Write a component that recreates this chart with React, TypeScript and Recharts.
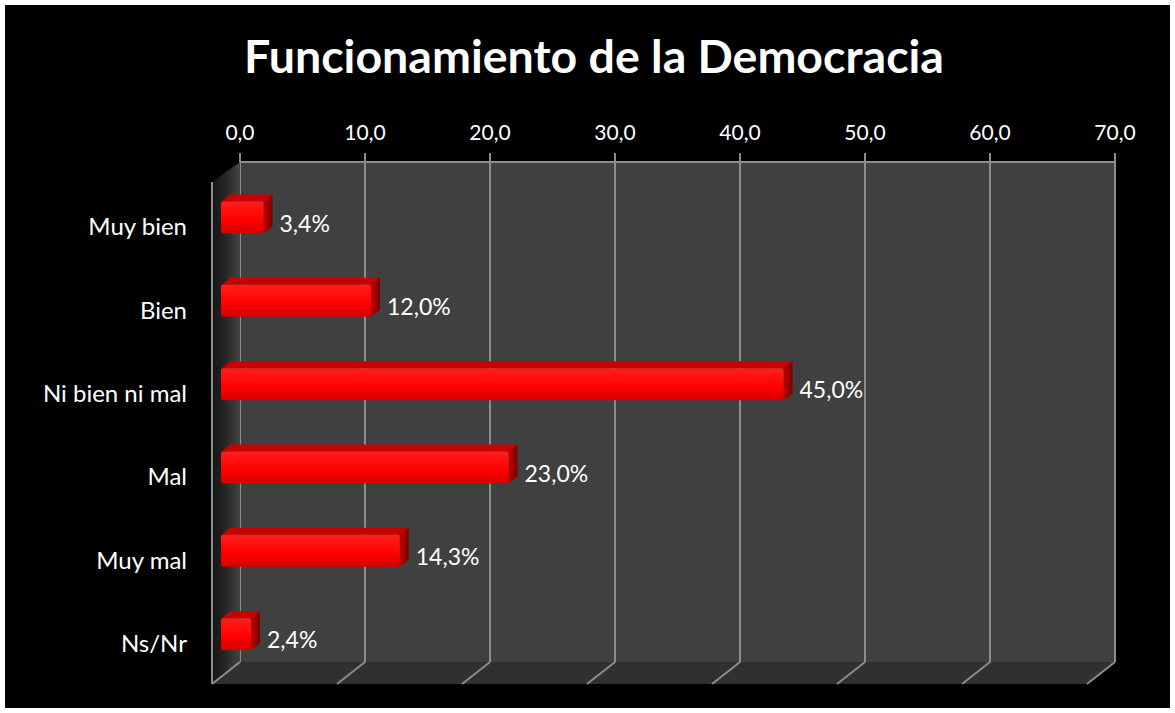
import React from 'react';
import { BarChart, Bar, XAxis, YAxis, CartesianGrid, LabelList, Customized } from 'recharts';

const categories = ['Muy bien', 'Bien', 'Ni bien ni mal', 'Mal', 'Muy mal', 'Ns/Nr'];
const percentValues = [3.4, 12.0, 45.0, 23.0, 14.3, 2.4];
const axisTicks = [0, 10, 20, 30, 40, 50, 60, 70];

const data = categories.map((name, i) => ({ name, value: percentValues[i] }));

const W = 1175;
const H = 713;
// back wall (plot area)
const PL = 240;
const PT = 162;
const PR = 1115;
const PB = 662;
// oblique depth of the 3D box
const DX = 28;
const DY = 22;

const FONT = 'Lato, "Open Sans", sans-serif';
const fmt = (v: number) => v.toFixed(1).replace('.', ',');

// floor, side wall, title
const Decor = () => {
  const step = (PR - PL) / (axisTicks.length - 1);
  return (
    <g>
      <defs>
        <linearGradient id="sideWall" x1="0" y1="0" x2="1" y2="0">
          <stop offset="0%" stopColor="#151515" />
          <stop offset="40%" stopColor="#222" />
          <stop offset="100%" stopColor="#444" />
        </linearGradient>
        <linearGradient id="barFront" x1="0" y1="0" x2="0" y2="1">
          <stop offset="0%" stopColor="#ff1e1e" />
          <stop offset="60%" stopColor="#ff0000" />
          <stop offset="100%" stopColor="#d40000" />
        </linearGradient>
        <linearGradient id="barSide" x1="0" y1="0" x2="1" y2="0">
          <stop offset="0%" stopColor="#c00000" />
          <stop offset="100%" stopColor="#7a0000" />
        </linearGradient>
      </defs>
      <text
        x={594}
        y={73}
        textAnchor="middle"
        fill="#fff"
        fontFamily={FONT}
        fontWeight={700}
        fontSize={46.5}
      >
        Funcionamiento de la Democracia
      </text>
      <polygon
        points={`${PL - DX},${PT + DY - 2} ${PL},${PT} ${PL},${PB} ${PL - DX},${PB + DY}`}
        fill="url(#sideWall)"
      />
      <polygon
        points={`${PL - DX},${PB + DY} ${PL},${PB} ${PR},${PB} ${PR - DX},${PB + DY}`}
        fill="#303030"
      />
      {axisTicks.map((t, i) => (
        <line
          key={t}
          x1={PL + i * step}
          y1={PB}
          x2={PL + i * step - DX}
          y2={PB + DY}
          stroke="#8c8c8c"
          strokeWidth={2}
        />
      ))}
      <line x1={PL - DX} y1={PT + DY - 2} x2={PL - DX} y2={PB + DY} stroke="#8c8c8c" strokeWidth={2} />
    </g>
  );
};

const Bar3D = (props: any) => {
  const { x, y, width, height } = props;
  const fx = x - 19;
  const fy = y + 13.5;
  const d = 9;
  const e = 7;
  return (
    <g>
      <polygon
        points={`${fx + width},${fy} ${fx + width + d},${fy - e} ${fx + width + d},${fy + height - e} ${fx + width},${fy + height}`}
        fill="url(#barSide)"
      />
      <polygon
        points={`${fx + 1},${fy} ${fx + d},${fy - e} ${fx + width + d},${fy - e} ${fx + width},${fy}`}
        fill="#c80000"
      />
      <rect x={fx} y={fy} width={width} height={height} rx={2} fill="url(#barFront)" />
    </g>
  );
};

const ValueLabel = (props: any) => {
  const { x, y, width, height, value } = props;
  return (
    <text
      x={x + width - 3}
      y={y + 13.5 + height - 2}
      fill="#fff"
      fontFamily={FONT}
      fontSize={23}
    >
      {fmt(value) + '%'}
    </text>
  );
};

const TopTick = (props: any) => {
  const { x, payload } = props;
  return (
    <text x={x} y={140} textAnchor="middle" fill="#fff" fontFamily={FONT} fontSize={21}>
      {fmt(payload.value)}
    </text>
  );
};

const CatTick = (props: any) => {
  const { y, payload } = props;
  return (
    <text
      x={187}
      y={y + 22}
      textAnchor="end"
      dominantBaseline="central"
      fill="#fff"
      fontFamily={FONT}
      fontSize={24}
    >
      {payload.value}
    </text>
  );
};

export default function App() {
  return (
    <div style={{ position: 'relative', width: W, height: H, background: '#fff' }}>
      <style>{`body{margin:0;}`}</style>
      <div style={{ position: 'absolute', left: 5, top: 5, right: 5, bottom: 5, background: '#000' }} />
      <div style={{ position: 'absolute', left: 0, top: 0 }}>
        <BarChart
          width={W}
          height={H}
          data={data}
          layout="vertical"
          margin={{ top: PT - 30, right: W - PR, bottom: H - PB, left: PL - 200 }}
          barSize={32}
        >
          <Customized component={Decor} />
          <CartesianGrid horizontal={false} vertical stroke="#8c8c8c" strokeWidth={2} fill="#404040" />
          <XAxis
            type="number"
            orientation="top"
            domain={[0, 70]}
            ticks={axisTicks}
            height={30}
            axisLine={{ stroke: '#8c8c8c', strokeWidth: 2 }}
            tickLine={{ stroke: '#8c8c8c', strokeWidth: 2 }}
            tickSize={9}
            tick={<TopTick />}
            interval={0}
          />
          <YAxis
            type="category"
            dataKey="name"
            width={200}
            axisLine={false}
            tickLine={false}
            tick={<CatTick />}
            interval={0}
          />
          <Bar dataKey="value" shape={<Bar3D />} isAnimationActive={false}>
            <LabelList dataKey="value" content={<ValueLabel />} />
          </Bar>
        </BarChart>
      </div>
    </div>
  );
}
